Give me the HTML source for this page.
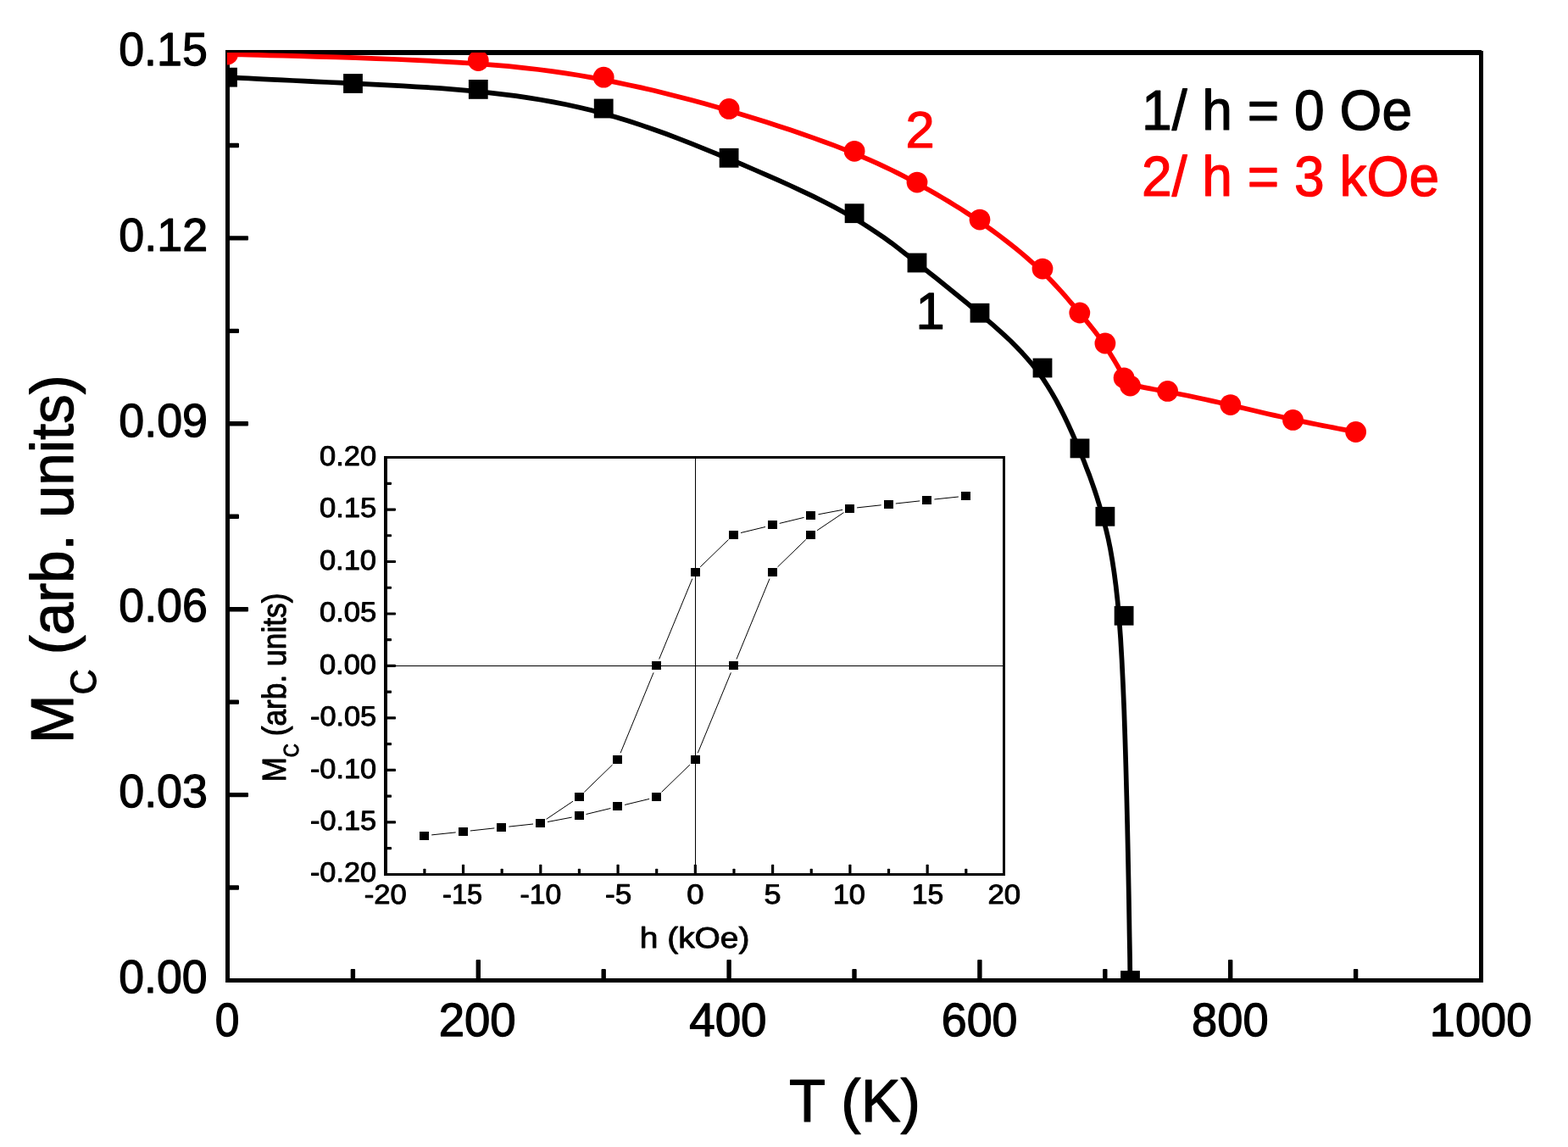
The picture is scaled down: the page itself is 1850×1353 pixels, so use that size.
<!DOCTYPE html>
<html lang="en"><head><meta charset="utf-8"><title>M_C versus T</title>
<style>html,body{margin:0;padding:0;background:#fff}body{width:1850px;height:1353px;overflow:hidden}svg{display:block}text{font-family:'Liberation Sans', Arial, Helvetica, sans-serif;text-rendering:geometricPrecision}</style>
</head><body>
<svg width="1850" height="1353" viewBox="0 0 1850 1353">
<rect x="0" y="0" width="1850" height="1353" fill="#fff"/>
<defs><clipPath id="pc"><rect x="268" y="62" width="1480" height="1095"/></clipPath></defs>
<g fill="#000" shape-rendering="crispEdges">
<rect x="266" y="59" width="5" height="1100"/>
<rect x="266" y="1154" width="1484" height="5"/>
<rect x="266" y="59" width="1482" height="6"/>
<rect x="1745" y="60" width="5" height="1099"/>
</g>
<g fill="#000">
<rect x="413.70" y="1143.00" width="5.40" height="13.00" rx="1"/>
<rect x="561.60" y="1132.00" width="5.40" height="24.00" rx="1"/>
<rect x="709.50" y="1143.00" width="5.40" height="13.00" rx="1"/>
<rect x="857.40" y="1132.00" width="5.40" height="24.00" rx="1"/>
<rect x="1005.30" y="1143.00" width="5.40" height="13.00" rx="1"/>
<rect x="1153.20" y="1132.00" width="5.40" height="24.00" rx="1"/>
<rect x="1301.10" y="1143.00" width="5.40" height="13.00" rx="1"/>
<rect x="1449.00" y="1132.00" width="5.40" height="24.00" rx="1"/>
<rect x="1596.90" y="1143.00" width="5.40" height="13.00" rx="1"/>
<rect x="269.00" y="1044.35" width="13.00" height="5.40" rx="1"/>
<rect x="269.00" y="934.90" width="24.00" height="5.40" rx="1"/>
<rect x="269.00" y="825.45" width="13.00" height="5.40" rx="1"/>
<rect x="269.00" y="716.00" width="24.00" height="5.40" rx="1"/>
<rect x="269.00" y="606.55" width="13.00" height="5.40" rx="1"/>
<rect x="269.00" y="497.10" width="24.00" height="5.40" rx="1"/>
<rect x="269.00" y="387.65" width="13.00" height="5.40" rx="1"/>
<rect x="269.00" y="278.20" width="24.00" height="5.40" rx="1"/>
<rect x="269.00" y="168.75" width="13.00" height="5.40" rx="1"/>
</g>
<g clip-path="url(#pc)">
<path d="M268.5,91.2 L268.5,91.2 L268.7,91.2 L269.2,91.2 L270.1,91.3 L271.6,91.4 L273.8,91.5 L277.0,91.6 L281.1,91.8 L286.5,92.1 L293.2,92.4 L301.3,92.8 L310.7,93.3 L321.4,93.8 L333.0,94.4 L345.6,95.0 L358.9,95.6 L372.8,96.3 L387.1,97.0 L401.7,97.7 L416.5,98.4 L431.3,99.1 L446.0,99.9 L460.8,100.6 L475.6,101.4 L490.4,102.3 L505.2,103.2 L520.0,104.2 L534.7,105.4 L549.5,106.6 L564.3,108.0 L579.1,109.6 L593.9,111.3 L608.7,113.2 L623.5,115.4 L638.3,117.8 L653.0,120.4 L667.8,123.3 L682.6,126.5 L697.4,130.1 L712.2,133.9 L727.0,138.2 L741.8,142.7 L756.6,147.6 L771.4,152.7 L786.2,158.0 L800.9,163.6 L815.7,169.4 L830.5,175.3 L845.3,181.3 L860.1,187.5 L874.9,193.7 L889.6,200.0 L904.2,206.3 L918.5,212.6 L932.6,219.0 L946.2,225.4 L959.5,231.7 L972.2,238.0 L984.3,244.3 L995.8,250.5 L1006.5,256.7 L1016.6,262.8 L1026.0,268.8 L1035.0,274.8 L1043.5,280.7 L1051.7,286.6 L1059.5,292.5 L1067.1,298.4 L1074.6,304.3 L1082.0,310.1 L1089.4,316.0 L1096.8,321.9 L1104.2,327.8 L1111.6,333.8 L1119.0,339.7 L1126.4,345.7 L1133.8,351.8 L1141.2,357.8 L1148.6,364.0 L1156.0,370.1 L1163.4,376.4 L1170.8,382.7 L1178.1,389.1 L1185.3,395.6 L1192.4,402.3 L1199.3,409.2 L1206.1,416.3 L1212.6,423.6 L1219.0,431.2 L1225.0,439.0 L1230.8,447.1 L1236.2,455.5 L1241.4,464.1 L1246.4,472.9 L1251.1,481.8 L1255.6,490.7 L1259.9,499.7 L1264.0,508.7 L1267.9,517.7 L1271.6,526.5 L1275.3,535.2 L1278.8,543.8 L1282.1,552.4 L1285.4,560.9 L1288.5,569.6 L1291.5,578.3 L1294.4,587.2 L1297.2,596.3 L1300.0,605.7 L1302.6,615.4 L1305.2,625.5 L1307.7,636.2 L1310.1,647.9 L1312.3,660.8 L1314.5,675.1 L1316.6,691.2 L1318.6,709.3 L1320.4,729.7 L1322.1,752.7 L1323.6,778.5 L1325.0,807.3 L1326.3,838.5 L1327.4,871.3 L1328.4,905.1 L1329.3,939.0 L1330.1,972.3 L1330.8,1004.3 L1331.4,1034.2 L1331.9,1061.3 L1332.3,1084.8 L1332.6,1104.2 L1332.9,1119.8 L1333.1,1131.9 L1333.2,1141.0 L1333.3,1147.5 L1333.4,1151.9 L1333.5,1154.6 L1333.5,1155.9 L1333.5,1156.4 L1333.5,1156.5" fill="none" stroke="#000" stroke-width="5.7" stroke-linejoin="round"/>
<g fill="#000">
<rect x="257.10" y="79.80" width="22.8" height="22.8"/>
<rect x="405.10" y="87.10" width="22.8" height="22.8"/>
<rect x="552.90" y="94.00" width="22.8" height="22.8"/>
<rect x="700.80" y="116.60" width="22.8" height="22.8"/>
<rect x="848.70" y="174.90" width="22.8" height="22.8"/>
<rect x="996.70" y="240.30" width="22.8" height="22.8"/>
<rect x="1070.60" y="298.60" width="22.8" height="22.8"/>
<rect x="1144.60" y="357.80" width="22.8" height="22.8"/>
<rect x="1218.60" y="422.60" width="22.8" height="22.8"/>
<rect x="1262.60" y="517.50" width="22.8" height="22.8"/>
<rect x="1292.50" y="597.90" width="22.8" height="22.8"/>
<rect x="1314.70" y="714.90" width="22.8" height="22.8"/>
<rect x="1322.10" y="1145.10" width="22.8" height="22.8"/>
</g>
<path d="M268.5,64.0 L268.5,64.0 L268.9,64.0 L269.8,64.0 L271.7,64.1 L274.7,64.2 L279.1,64.3 L285.4,64.4 L293.7,64.6 L304.4,64.9 L317.8,65.3 L334.0,65.7 L352.7,66.2 L373.5,66.8 L395.9,67.4 L419.5,68.2 L443.8,69.1 L468.4,70.0 L492.9,71.1 L516.8,72.3 L539.6,73.6 L561.1,75.0 L581.3,76.6 L600.2,78.2 L618.1,80.1 L635.2,82.0 L651.5,84.1 L667.2,86.4 L682.4,88.8 L697.4,91.4 L712.2,94.1 L727.0,97.1 L741.8,100.2 L756.6,103.4 L771.4,106.8 L786.2,110.4 L800.9,114.2 L815.7,118.0 L830.5,122.1 L845.3,126.2 L860.1,130.5 L874.9,134.9 L889.6,139.4 L904.2,144.0 L918.5,148.7 L932.6,153.3 L946.2,158.0 L959.5,162.6 L972.2,167.2 L984.3,171.7 L995.8,176.1 L1006.5,180.4 L1016.6,184.6 L1026.0,188.6 L1035.0,192.6 L1043.5,196.6 L1051.7,200.5 L1059.5,204.4 L1067.1,208.3 L1074.6,212.3 L1082.0,216.3 L1089.4,220.4 L1096.8,224.5 L1104.2,228.8 L1111.6,233.1 L1119.0,237.5 L1126.4,242.1 L1133.8,246.7 L1141.2,251.5 L1148.6,256.4 L1156.0,261.4 L1163.4,266.6 L1170.8,271.9 L1178.1,277.3 L1185.3,282.7 L1192.4,288.3 L1199.3,293.8 L1206.1,299.4 L1212.6,305.0 L1218.9,310.6 L1225.0,316.1 L1230.7,321.5 L1236.2,326.9 L1241.4,332.2 L1246.3,337.5 L1251.0,342.6 L1255.5,347.6 L1259.7,352.5 L1263.8,357.3 L1267.8,361.9 L1271.5,366.4 L1275.1,370.7 L1278.6,374.8 L1282.0,378.9 L1285.3,382.9 L1288.4,386.8 L1291.4,390.6 L1294.4,394.4 L1297.2,398.2 L1299.9,402.0 L1302.6,405.8 L1305.2,409.7 L1307.6,413.5 L1310.0,417.4 L1312.3,421.2 L1314.5,424.8 L1316.6,428.4 L1318.6,431.8 L1320.4,435.0 L1322.1,437.9 L1323.6,440.5 L1325.0,442.9 L1326.4,445.0 L1327.6,446.8 L1328.9,448.4 L1330.3,449.7 L1331.7,450.9 L1333.3,452.0 L1335.1,452.9 L1337.2,453.8 L1339.6,454.6 L1342.4,455.4 L1345.5,456.1 L1349.0,456.9 L1352.8,457.6 L1356.9,458.4 L1361.4,459.2 L1366.3,460.1 L1371.4,461.0 L1376.9,462.0 L1382.6,463.0 L1388.7,464.2 L1395.0,465.5 L1401.6,466.8 L1408.4,468.3 L1415.3,469.7 L1422.4,471.3 L1429.6,472.9 L1437.0,474.5 L1444.3,476.2 L1451.7,477.9 L1459.1,479.6 L1466.5,481.3 L1473.9,483.0 L1481.3,484.7 L1488.6,486.5 L1496.0,488.2 L1503.4,489.9 L1510.8,491.5 L1518.2,493.2 L1525.6,494.8 L1532.9,496.4 L1540.3,497.9 L1547.4,499.4 L1554.4,500.8 L1561.0,502.1 L1567.3,503.3 L1573.1,504.4 L1578.5,505.5 L1583.2,506.4 L1587.2,507.1 L1590.6,507.8 L1593.3,508.3 L1595.4,508.7 L1596.9,509.0 L1598.1,509.2 L1598.8,509.3 L1599.3,509.4 L1599.5,509.5 L1599.6,509.5 L1599.6,509.5" fill="none" stroke="#f00" stroke-width="5.7" stroke-linejoin="round"/>
<g fill="#f00">
<circle cx="268.50" cy="64.00" r="12.4"/>
<circle cx="564.30" cy="71.60" r="12.4"/>
<circle cx="712.20" cy="91.20" r="12.4"/>
<circle cx="860.10" cy="128.40" r="12.4"/>
<circle cx="1008.10" cy="178.30" r="12.4"/>
<circle cx="1082.00" cy="215.10" r="12.4"/>
<circle cx="1156.00" cy="259.10" r="12.4"/>
<circle cx="1230.00" cy="317.10" r="12.4"/>
<circle cx="1273.80" cy="369.00" r="12.4"/>
<circle cx="1303.90" cy="405.00" r="12.4"/>
<circle cx="1326.10" cy="445.80" r="12.4"/>
<circle cx="1333.50" cy="455.10" r="12.4"/>
<circle cx="1377.60" cy="461.40" r="12.4"/>
<circle cx="1451.80" cy="477.60" r="12.4"/>
<circle cx="1525.50" cy="495.40" r="12.4"/>
<circle cx="1599.60" cy="509.50" r="12.4"/>
</g>
</g>
<text font-size="53" fill="#000" stroke="#000" stroke-width="1.2" stroke-linejoin="round" transform="matrix(1.0121,0.0004,0,1.0339,140.22,1171.04)">0.00</text>
<text font-size="53" fill="#000" stroke="#000" stroke-width="1.2" stroke-linejoin="round" transform="matrix(1.0157,0.0004,0,1.0348,140.22,952.07)">0.03</text>
<text font-size="53" fill="#000" stroke="#000" stroke-width="1.2" stroke-linejoin="round" transform="matrix(1.0136,0.0004,0,1.0424,140.27,732.96)">0.06</text>
<text font-size="53" fill="#000" stroke="#000" stroke-width="1.2" stroke-linejoin="round" transform="matrix(1.0153,0.0004,0,1.0422,140.27,514.96)">0.09</text>
<text font-size="53" fill="#000" stroke="#000" stroke-width="1.2" stroke-linejoin="round" transform="matrix(1.0157,0.0004,0,1.0357,140.35,295.52)">0.12</text>
<text font-size="53" fill="#000" stroke="#000" stroke-width="1.2" stroke-linejoin="round" transform="matrix(1.0125,0.0004,0,1.0424,140.28,76.86)">0.15</text>
<text font-size="53" fill="#000" stroke="#000" stroke-width="1.2" stroke-linejoin="round" transform="matrix(0.9738,0.0004,0,1.0450,253.63,1221.96)">0</text>
<text font-size="53" fill="#000" stroke="#000" stroke-width="1.2" stroke-linejoin="round" transform="matrix(1.0289,0.0004,0,1.0448,517.68,1221.96)">200</text>
<text font-size="53" fill="#000" stroke="#000" stroke-width="1.2" stroke-linejoin="round" transform="matrix(1.0338,0.0004,0,1.0448,813.16,1221.96)">400</text>
<text font-size="53" fill="#000" stroke="#000" stroke-width="1.2" stroke-linejoin="round" transform="matrix(1.0151,0.0004,0,1.0448,1110.78,1221.96)">600</text>
<text font-size="53" fill="#000" stroke="#000" stroke-width="1.2" stroke-linejoin="round" transform="matrix(1.0228,0.0004,0,1.0448,1406.12,1221.96)">800</text>
<text font-size="53" fill="#000" stroke="#000" stroke-width="1.2" stroke-linejoin="round" transform="matrix(1.0228,0.0004,0,1.0458,1686.79,1221.98)">1000</text>
<text font-size="70" fill="#000" stroke="#000" stroke-width="1.2" stroke-linejoin="round" transform="matrix(1.0049,0.0004,0,1.0163,931.03,1322.52)">T (K)</text>
<text font-size="70" fill="#000" stroke="#000" stroke-width="1.2" stroke-linejoin="round" transform="matrix(1.0113,0.0004,0,0.9865,86.05,876.88) rotate(-90)">M<tspan font-size="42" dy="26.4">C</tspan><tspan dy="-26.4" dx="-2"> (arb. units)</tspan></text>
<text font-size="66" fill="#000" stroke="#000" stroke-width="1.2" stroke-linejoin="round" transform="matrix(0.9717,0.0004,0,1.0096,1347.00,152.68)">1/ h = 0 Oe</text>
<text font-size="66" fill="#f00" stroke="#f00" stroke-width="1.2" stroke-linejoin="round" transform="matrix(0.9717,0.0004,0,1.0096,1347.00,230.98)">2/ h = 3 kOe</text>
<text font-size="60" fill="#f00" stroke="#f00" stroke-width="1.2" stroke-linejoin="round" transform="matrix(1.0221,0.0004,0,1.0061,1068.44,173.54)">2</text>
<text font-size="60" fill="#000" stroke="#000" stroke-width="1.2" stroke-linejoin="round" transform="matrix(1.0221,0.0004,0,1.0205,1080.53,388.22)">1</text>
<rect x="453" y="538" width="733" height="495" fill="#fff"/>
<g fill="#000" shape-rendering="crispEdges">
<rect x="820" y="539" width="1" height="492"/>
<rect x="455" y="785" width="730" height="1"/>
</g>
<path d="M1130.9,586.0 L1102.4,589.0 M1085.3,590.9 L1056.8,594.0 M1039.7,595.8 L1011.1,598.9 M994.1,601.4 L965.4,606.8 M948.6,610.4 L919.7,617.4 M903.0,621.5 L874.0,628.5 M859.5,636.5 L826.2,668.8 M816.8,682.7 L777.7,777.5 M771.1,793.4 L732.1,888.2 M722.6,902.1 L689.3,934.4 M676.0,945.2 L644.6,966.3 M629.0,972.0 L600.4,975.1 M583.3,976.9 L554.8,980.0 M537.7,981.9 L509.2,984.9 M646.0,969.5 L674.7,964.1 M691.5,960.5 L720.4,953.5 M737.1,949.4 L766.1,942.4 M780.6,934.4 L813.9,902.1 M823.3,888.2 L862.4,793.4 M869.0,777.5 L908.0,682.7 M917.5,668.8 L950.8,636.5 M964.1,625.7 L995.5,604.6" stroke="#000" stroke-width="1" fill="none"/>
<g fill="#000" shape-rendering="crispEdges">
<rect x="1134" y="580" width="11" height="10"/>
<rect x="1088" y="585" width="11" height="10"/>
<rect x="1043" y="590" width="11" height="10"/>
<rect x="997" y="595" width="11" height="10"/>
<rect x="951" y="603" width="11" height="10"/>
<rect x="906" y="614" width="11" height="10"/>
<rect x="860" y="626" width="11" height="10"/>
<rect x="815" y="670" width="11" height="10"/>
<rect x="769" y="780" width="11" height="10"/>
<rect x="723" y="891" width="11" height="10"/>
<rect x="678" y="935" width="11" height="10"/>
<rect x="632" y="966" width="11" height="10"/>
<rect x="586" y="971" width="11" height="10"/>
<rect x="541" y="976" width="11" height="10"/>
<rect x="495" y="981" width="11" height="10"/>
<rect x="678" y="957" width="11" height="10"/>
<rect x="723" y="946" width="11" height="10"/>
<rect x="769" y="935" width="11" height="10"/>
<rect x="815" y="891" width="11" height="10"/>
<rect x="860" y="780" width="11" height="10"/>
<rect x="906" y="670" width="11" height="10"/>
<rect x="951" y="626" width="11" height="10"/>
</g>
<g fill="#000" shape-rendering="crispEdges">
<rect x="453" y="538" width="4" height="495"/>
<rect x="453" y="1029.6" width="733" height="3.4"/>
<rect x="453" y="538" width="733" height="3"/>
<rect x="1183" y="538" width="3" height="495"/>
</g>
<g fill="#000">
<rect x="499.30" y="1024.80" width="3.2" height="6.0" rx="0.8"/>
<rect x="544.94" y="1019.80" width="3.2" height="11.0" rx="0.8"/>
<rect x="590.57" y="1024.80" width="3.2" height="6.0" rx="0.8"/>
<rect x="636.21" y="1019.80" width="3.2" height="11.0" rx="0.8"/>
<rect x="681.84" y="1024.80" width="3.2" height="6.0" rx="0.8"/>
<rect x="727.48" y="1019.80" width="3.2" height="11.0" rx="0.8"/>
<rect x="773.11" y="1024.80" width="3.2" height="6.0" rx="0.8"/>
<rect x="818.75" y="1019.80" width="3.2" height="11.0" rx="0.8"/>
<rect x="864.38" y="1024.80" width="3.2" height="6.0" rx="0.8"/>
<rect x="910.02" y="1019.80" width="3.2" height="11.0" rx="0.8"/>
<rect x="955.65" y="1024.80" width="3.2" height="6.0" rx="0.8"/>
<rect x="1001.29" y="1019.80" width="3.2" height="11.0" rx="0.8"/>
<rect x="1046.92" y="1024.80" width="3.2" height="6.0" rx="0.8"/>
<rect x="1092.56" y="1019.80" width="3.2" height="11.0" rx="0.8"/>
<rect x="1138.19" y="1024.80" width="3.2" height="6.0" rx="0.8"/>
<rect x="456.00" y="999.01" width="6.0" height="3.2" rx="0.8"/>
<rect x="456.00" y="968.27" width="11.0" height="3.2" rx="0.8"/>
<rect x="456.00" y="937.54" width="6.0" height="3.2" rx="0.8"/>
<rect x="456.00" y="906.80" width="11.0" height="3.2" rx="0.8"/>
<rect x="456.00" y="876.06" width="6.0" height="3.2" rx="0.8"/>
<rect x="456.00" y="845.33" width="11.0" height="3.2" rx="0.8"/>
<rect x="456.00" y="814.59" width="6.0" height="3.2" rx="0.8"/>
<rect x="456.00" y="783.85" width="11.0" height="3.2" rx="0.8"/>
<rect x="456.00" y="753.11" width="6.0" height="3.2" rx="0.8"/>
<rect x="456.00" y="722.38" width="11.0" height="3.2" rx="0.8"/>
<rect x="456.00" y="691.64" width="6.0" height="3.2" rx="0.8"/>
<rect x="456.00" y="660.90" width="11.0" height="3.2" rx="0.8"/>
<rect x="456.00" y="630.16" width="6.0" height="3.2" rx="0.8"/>
<rect x="456.00" y="599.43" width="11.0" height="3.2" rx="0.8"/>
<rect x="456.00" y="568.69" width="6.0" height="3.2" rx="0.8"/>
</g>
<text font-size="31" fill="#000" stroke="#000" stroke-width="0.9" stroke-linejoin="round" transform="matrix(1.1056,0.0004,0,1.0578,365.95,1039.89)">-0.20</text>
<text font-size="31" fill="#000" stroke="#000" stroke-width="0.9" stroke-linejoin="round" transform="matrix(1.1079,0.0004,0,1.0492,365.94,978.88)">-0.15</text>
<text font-size="31" fill="#000" stroke="#000" stroke-width="0.9" stroke-linejoin="round" transform="matrix(1.1053,0.0004,0,1.0576,365.96,918.16)">-0.10</text>
<text font-size="31" fill="#000" stroke="#000" stroke-width="0.9" stroke-linejoin="round" transform="matrix(1.1076,0.0004,0,1.0580,365.95,855.89)">-0.05</text>
<text font-size="31" fill="#000" stroke="#000" stroke-width="0.9" stroke-linejoin="round" transform="matrix(1.1113,0.0004,0,1.0582,376.92,794.61)">0.00</text>
<text font-size="31" fill="#000" stroke="#000" stroke-width="0.9" stroke-linejoin="round" transform="matrix(1.1144,0.0004,0,1.0574,376.98,732.87)">0.05</text>
<text font-size="31" fill="#000" stroke="#000" stroke-width="0.9" stroke-linejoin="round" transform="matrix(1.1113,0.0004,0,1.0582,376.92,671.61)">0.10</text>
<text font-size="31" fill="#000" stroke="#000" stroke-width="0.9" stroke-linejoin="round" transform="matrix(1.1144,0.0004,0,1.0577,376.98,609.87)">0.15</text>
<text font-size="31" fill="#000" stroke="#000" stroke-width="0.9" stroke-linejoin="round" transform="matrix(1.1120,0.0004,0,1.0580,376.98,548.88)">0.20</text>
<text font-size="31" fill="#000" stroke="#000" stroke-width="0.9" stroke-linejoin="round" transform="matrix(1.1161,0.0004,0,1.0437,429.81,1066.01)">-20</text>
<text font-size="31" fill="#000" stroke="#000" stroke-width="0.9" stroke-linejoin="round" transform="matrix(1.0518,0.0004,0,1.0706,522.07,1066.05)">-15</text>
<text font-size="31" fill="#000" stroke="#000" stroke-width="0.9" stroke-linejoin="round" transform="matrix(1.0900,0.0004,0,1.0493,613.48,1066.01)">-10</text>
<text font-size="31" fill="#000" stroke="#000" stroke-width="0.9" stroke-linejoin="round" transform="matrix(1.1342,0.0004,0,1.0660,714.05,1066.19)">-5</text>
<text font-size="31" fill="#000" stroke="#000" stroke-width="0.9" stroke-linejoin="round" transform="matrix(1.1768,0.0004,0,1.0526,810.26,1065.99)">0</text>
<text font-size="31" fill="#000" stroke="#000" stroke-width="0.9" stroke-linejoin="round" transform="matrix(1.1599,0.0004,0,1.0603,901.55,1066.07)">5</text>
<text font-size="31" fill="#000" stroke="#000" stroke-width="0.9" stroke-linejoin="round" transform="matrix(1.1096,0.0004,0,1.0420,982.70,1066.00)">10</text>
<text font-size="31" fill="#000" stroke="#000" stroke-width="0.9" stroke-linejoin="round" transform="matrix(1.0858,0.0004,0,1.0592,1075.73,1065.99)">15</text>
<text font-size="31" fill="#000" stroke="#000" stroke-width="0.9" stroke-linejoin="round" transform="matrix(1.1229,0.0004,0,1.0420,1165.41,1066.00)">20</text>
<text font-size="35" fill="#000" stroke="#000" stroke-width="0.9" stroke-linejoin="round" transform="matrix(1.1119,0.0004,0,0.9890,754.71,1118.42)">h (kOe)</text>
<text font-size="35" fill="#000" stroke="#000" stroke-width="0.9" stroke-linejoin="round" transform="matrix(1.1238,0.0004,0,1.0088,336.52,922.55) rotate(-90)">M<tspan font-size="22" dy="13.4">C</tspan><tspan dy="-13.4" dx="-1"> (arb. units)</tspan></text>
</svg>
</body></html>
